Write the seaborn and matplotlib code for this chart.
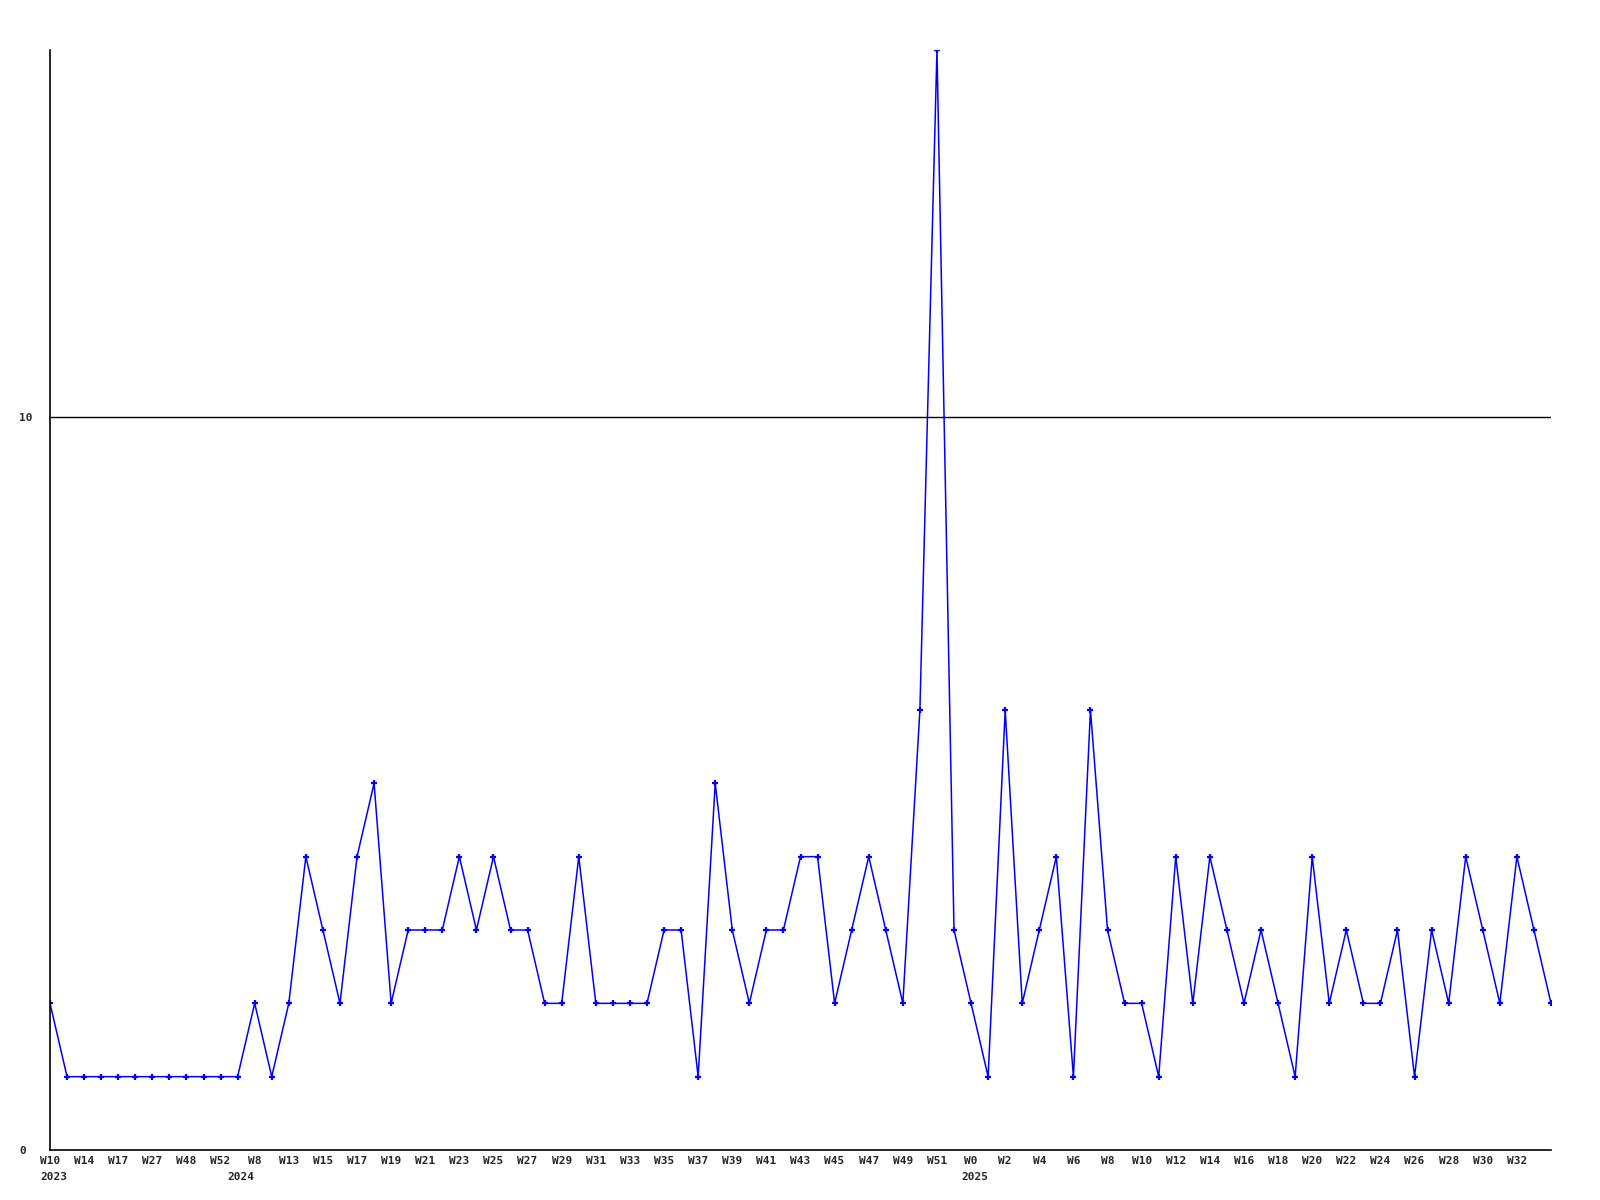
import numpy as np
import pandas as pd
import matplotlib
matplotlib.use("Agg")
import matplotlib.pyplot as plt
import matplotlib.transforms as mtransforms
import seaborn as sns

# weekly counts, one value per week (oldest first)
counts = [2, 1, 1, 1, 1, 1, 1, 1, 1, 1, 1, 1, 2, 1, 2, 4, 3, 2, 4, 5,
          2, 3, 3, 3, 4, 3, 4, 3, 3, 2, 2, 4, 2, 2, 2, 2, 3, 3, 1, 5,
          3, 2, 3, 3, 4, 4, 2, 3, 4, 3, 2, 6, 15, 3, 2, 1, 6, 2, 3, 4,
          1, 6, 3, 2, 2, 1, 4, 2, 4, 3, 2, 3, 2, 1, 4, 2, 3, 2, 2, 3,
          1, 3, 2, 4, 3, 2, 4, 3, 2]

# labels shown under every second week
week_labels = ["W10", "W14", "W17", "W27", "W48", "W52", "W8", "W13", "W15", "W17",
               "W19", "W21", "W23", "W25", "W27", "W29", "W31", "W33", "W35", "W37",
               "W39", "W41", "W43", "W45", "W47", "W49", "W51", "W0", "W2", "W4",
               "W6", "W8", "W10", "W12", "W14", "W16", "W18", "W20", "W22", "W24",
               "W26", "W28", "W30", "W32"]

years = ["2023", "2024", "2025"]
year_start = [0, 11, 54]

y_ticks = [0, 10]

df = pd.DataFrame({"week": np.arange(len(counts)), "count": counts})

sns.set_style("white")
plt.rcParams["font.family"] = ["DejaVu Sans Mono", "DejaVu Sans"]

fig = plt.figure(figsize=(16, 12), dpi=100)
ax = fig.add_axes([50 / 1600, 1 - 1150 / 1200, 1501 / 1600, 1100 / 1200])

sns.lineplot(data=df, x="week", y="count", ax=ax, color="#0000ff", lw=1.1,
             marker="+", markersize=5, markeredgewidth=1.6, markeredgecolor="#0000ff",
             clip_on=True)

ax.set_xlim(0, len(counts) - 1)
ax.set_ylim(0, 15)

ax.set_yticks(y_ticks)
ax.set_yticklabels([str(v) for v in y_ticks], fontsize=8, fontweight="bold", ha="left")
ax.set_xticks(np.arange(0, len(counts), 2)[:len(week_labels)])
ax.set_xticklabels(week_labels, fontsize=8, fontweight="bold")
ax.tick_params(axis="both", length=0)
ax.tick_params(axis="y", pad=22)
ax.tick_params(axis="x", pad=4)

ax.axhline(10, color="black", lw=1)

for side in ["top", "right"]:
    ax.spines[side].set_visible(False)
for side in ["left", "bottom"]:
    ax.spines[side].set_color("black")
    ax.spines[side].set_linewidth(1.2)

ax.set_xlabel("")
ax.set_ylabel("")

trans = mtransforms.blended_transform_factory(ax.transData, ax.transAxes)
for yr, pos in zip(years, year_start):
    ax.text(pos + 0.2, -0.02, yr, transform=trans, ha="center", va="top",
            fontsize=8, fontweight="bold")

fig.savefig("out.png", dpi=100)
plt.close(fig)
